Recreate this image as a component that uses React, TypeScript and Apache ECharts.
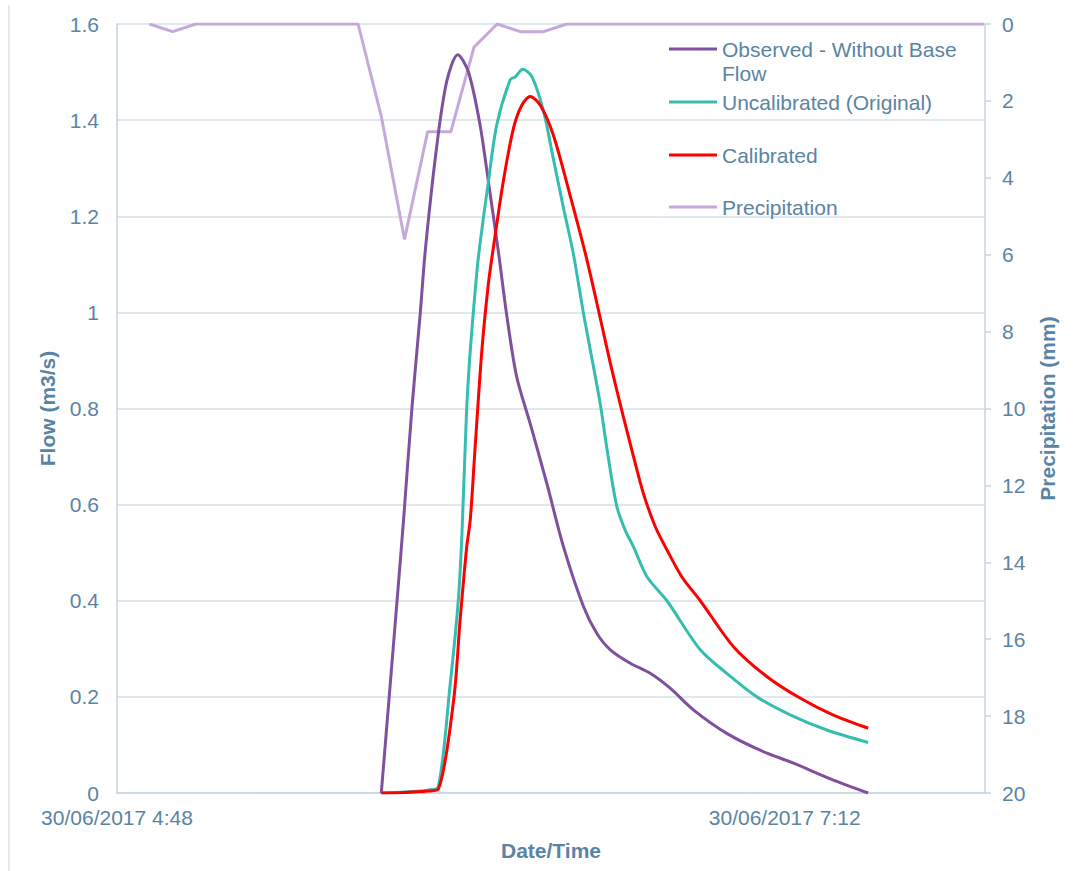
import React, { useEffect, useRef } from "react";
import * as echarts from "echarts";

// Time in minutes after midnight on 30/06/2017
const precipTimes = [295, 300, 305, 310, 315, 320, 325, 330, 335, 340, 345, 350, 355, 360, 365, 370, 375, 380, 385, 390, 395, 400, 405, 410, 415, 420, 425, 430, 435, 440, 445, 450, 455, 460, 465, 470, 475];
const precipMm = [0, 0.2, 0, 0, 0, 0, 0, 0, 0, 0, 2.4, 5.6, 2.8, 2.8, 0.6, 0, 0.2, 0.2, 0, 0, 0, 0, 0, 0, 0, 0, 0, 0, 0, 0, 0, 0, 0, 0, 0, 0, 0];

const observedTimes = [345, 348.4, 349.8, 351.6, 353.4, 354.5, 356.9, 359.1, 361.5, 363.8, 366.3, 368.1, 370.3, 372.1, 374.2, 377.1, 380.7, 384.3, 388.6, 391.5, 394.4, 398.7, 403, 407.3, 412.3, 419.5, 426.7, 433.9, 442.5, 450];
const observedFlow = [0, 0.4, 0.568, 0.8, 0.998, 1.13, 1.341, 1.48, 1.536, 1.5, 1.39, 1.272, 1.123, 0.991, 0.866, 0.769, 0.644, 0.512, 0.388, 0.332, 0.298, 0.27, 0.249, 0.218, 0.173, 0.124, 0.089, 0.062, 0.027, 0];

const uncalTimes = [345, 350, 355, 357.3, 359.8, 361.6, 362.4, 363.4, 364.2, 365.2, 366, 368.1, 369.9, 372.8, 373.9, 375.5, 377.5, 380, 382.1, 384.3, 386.4, 388.6, 392.2, 393.7, 395.8, 397.6, 399.4, 402.3, 406.6, 413.8, 419.5, 426, 433.3, 441.1, 450];
const uncalFlow = [0, 0.002, 0.006, 0.013, 0.221, 0.4, 0.54, 0.797, 0.922, 1.04, 1.12, 1.272, 1.39, 1.484, 1.49, 1.506, 1.49, 1.418, 1.32, 1.217, 1.123, 0.998, 0.811, 0.714, 0.596, 0.547, 0.512, 0.45, 0.4, 0.298, 0.249, 0.2, 0.162, 0.131, 0.105];

const calTimes = [345, 350, 355, 357.3, 360.6, 362, 363.4, 364.2, 365.2, 366.7, 368.1, 369.1, 371.3, 373.5, 375.3, 377.1, 379.3, 382.1, 385.7, 389, 391.5, 394.4, 397.2, 399.4, 401.5, 404.1, 406.6, 409.8, 413.8, 421, 428.2, 435.4, 442.5, 450];
const calFlow = [0, 0.001, 0.004, 0.008, 0.193, 0.36, 0.51, 0.57, 0.714, 0.922, 1.06, 1.13, 1.272, 1.383, 1.431, 1.449, 1.431, 1.369, 1.244, 1.123, 1.019, 0.894, 0.783, 0.7, 0.624, 0.554, 0.506, 0.45, 0.4, 0.304, 0.242, 0.197, 0.162, 0.135];

const seriesNames = ["Observed - Without Base Flow", "Uncalibrated (Original)", "Calibrated", "Precipitation"];
const dateLabel = "30/06/2017";

const TEXT = "#5A84A4";
const AXIS = "#C6D5E1";
const GRID = "#D6E1EA";
const FONT = "'Liberation Sans', Arial, sans-serif";

const pairs = (t: number[], v: number[]) => t.map((x, i) => [x, v[i]]);

export default function App() {
  const ref = useRef<HTMLDivElement>(null);
  useEffect(() => {
    if (!ref.current) return;
    const chart = echarts.init(ref.current, undefined, { renderer: "svg" });
    const legendBase = {
      left: 669,
      orient: "vertical",
      padding: 0,
      itemWidth: 48,
      itemHeight: 3,
      icon: "rect",
      selectedMode: false,
      textStyle: { color: TEXT, fontSize: 21, fontFamily: FONT, lineHeight: 24 },
    };
    chart.setOption({
      animation: false,
      backgroundColor: "#ffffff",
      textStyle: { fontFamily: FONT },
      grid: { left: 117, right: 90, top: 24, bottom: 78 },
      legend: [
        {
          ...legendBase,
          top: 13,
          data: [seriesNames[0]],
          formatter: () => "\nObserved - Without Base\nFlow",
        },
        { ...legendBase, top: 90, data: [seriesNames[1]] },
        { ...legendBase, top: 143, data: [seriesNames[2]] },
        { ...legendBase, top: 195, data: [seriesNames[3]] },
      ],
      xAxis: {
        type: "value",
        min: 288,
        max: 475.2,
        interval: 144,
        name: "Date/Time",
        nameLocation: "middle",
        nameGap: 47,
        nameTextStyle: { color: TEXT, fontSize: 21, fontWeight: "bold", fontFamily: FONT },
        axisLine: { show: true, lineStyle: { color: AXIS, width: 1.5 } },
        axisTick: { show: false },
        splitLine: { show: false },
        axisLabel: {
          color: TEXT,
          fontSize: 21,
          fontFamily: FONT,
          margin: 14,
          showMaxLabel: false,
          formatter: (v: number) => {
            const h = Math.floor(v / 60);
            const m = Math.round(v - h * 60);
            return `${dateLabel} ${h}:${m < 10 ? "0" + m : m}`;
          },
        },
      },
      yAxis: [
        {
          type: "value",
          min: 0,
          max: 1.6,
          interval: 0.2,
          name: "Flow (m3/s)",
          nameLocation: "middle",
          nameRotate: 90,
          nameGap: 59,
          nameTextStyle: { color: TEXT, fontSize: 21, fontWeight: "bold", fontFamily: FONT },
          axisLine: { show: true, lineStyle: { color: AXIS, width: 1.5 } },
          axisTick: { show: false },
          splitLine: { show: true, lineStyle: { color: GRID, width: 1.5 } },
          axisLabel: { color: TEXT, fontSize: 21, fontFamily: FONT, margin: 18 },
        },
        {
          type: "value",
          min: 0,
          max: 20,
          interval: 2,
          inverse: true,
          position: "right",
          name: "Precipitation (mm)",
          nameLocation: "middle",
          nameRotate: 90,
          nameGap: 52,
          nameTextStyle: { color: TEXT, fontSize: 21, fontWeight: "bold", fontFamily: FONT },
          axisLine: { show: true, lineStyle: { color: AXIS, width: 1.5 } },
          axisTick: { show: true, length: 6, lineStyle: { color: AXIS, width: 1.5 } },
          splitLine: { show: false },
          axisLabel: { color: TEXT, fontSize: 21, fontFamily: FONT, margin: 17 },
        },
      ],
      series: [
        {
          name: seriesNames[3],
          type: "line",
          yAxisIndex: 1,
          z: 1,
          data: pairs(precipTimes, precipMm),
          color: "#C5A9DA",
          symbol: "none",
          lineStyle: { width: 3, color: "#C5A9DA" },
        },
        {
          name: seriesNames[0],
          type: "line",
          z: 2,
          smooth: 0.3,
          data: pairs(observedTimes, observedFlow),
          color: "#7F509D",
          symbol: "none",
          lineStyle: { width: 3, color: "#7F509D" },
        },
        {
          name: seriesNames[1],
          type: "line",
          z: 3,
          smooth: 0.3,
          data: pairs(uncalTimes, uncalFlow),
          color: "#35BDB0",
          symbol: "none",
          lineStyle: { width: 3, color: "#35BDB0" },
        },
        {
          name: seriesNames[2],
          type: "line",
          z: 4,
          smooth: 0.3,
          data: pairs(calTimes, calFlow),
          color: "#FF0000",
          symbol: "none",
          lineStyle: { width: 3, color: "#FF0000" },
        },
      ],
      graphic: [
        {
          type: "line",
          shape: { x1: 9, y1: 5, x2: 9, y2: 871 },
          style: { stroke: "#D9E2EA", lineWidth: 1.5 },
        },
      ],
    });
    return () => chart.dispose();
  }, []);
  return (
    <div
      ref={ref}
      style={{ position: "fixed", left: 0, top: 0, width: 1075, height: 871, background: "#fff" }}
    />
  );
}
